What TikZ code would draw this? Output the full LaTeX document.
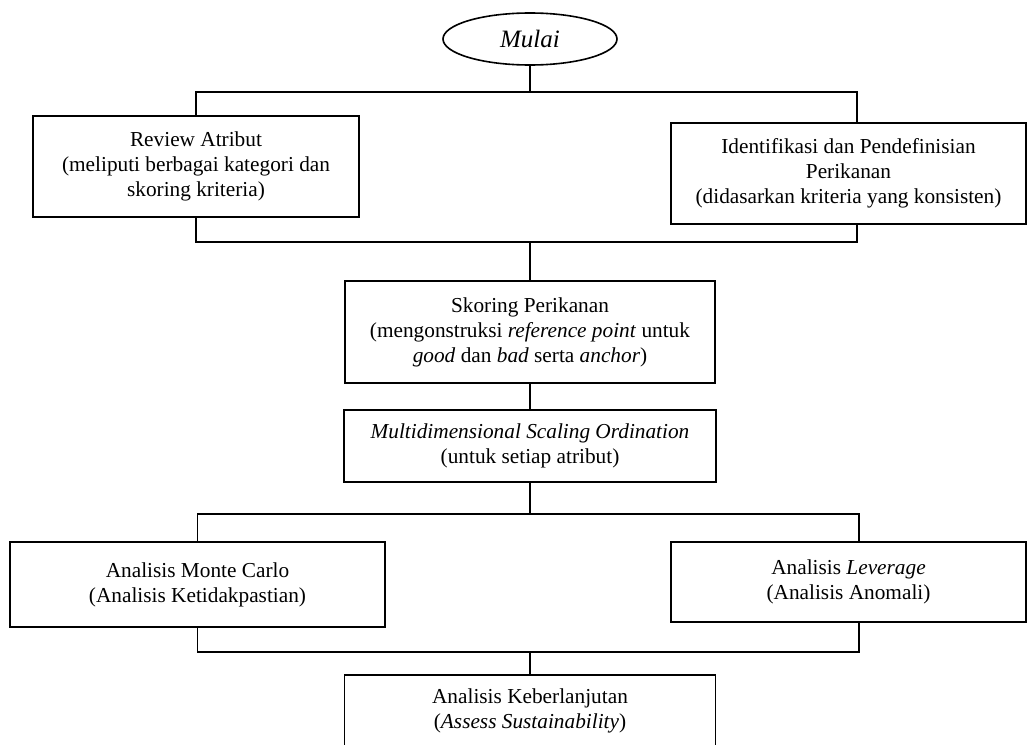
\documentclass[tikz,border=0pt]{standalone}
\usepackage{fontspec}
\setmainfont{Liberation Serif}
\usetikzlibrary{shapes.geometric}
\begin{document}
\begin{tikzpicture}[x=1pt,y=-1pt,line width=1.6pt,
  txt/.style={font=\fontsize{21.3}{25}\selectfont},
  box/.style={draw,rectangle,align=center,inner sep=0pt,txt},
  oval/.style={draw,ellipse,inner sep=0pt,font=\fontsize{25}{30}\selectfont}]
\useasboundingbox (0,0) rectangle (1030,744);
\clip (0,0) rectangle (1030,744);

\node[oval,minimum width=174pt,minimum height=52pt] (start) at (530,39) {\itshape Mulai};

\node[box,minimum width=326pt,minimum height=101pt] (review) at (196,166.5)
  {Review Atribut\\(meliputi berbagai kategori dan\\skoring kriteria)};
\node[box,minimum width=355pt,minimum height=101pt] (ident) at (848.5,173.5)
  {Identifikasi dan Pendefinisian\\Perikanan\\(didasarkan kriteria yang konsisten)};

\node[box,minimum width=370pt,minimum height=102pt] (skor) at (530,332)
  {Skoring Perikanan\\(mengonstruksi \textit{reference point} untuk\\\textit{good} dan \textit{bad} serta \textit{anchor})};

\node[box,minimum width=372pt,minimum height=72pt] (mds) at (530,446)
  {\textit{Multidimensional Scaling Ordination}\\(untuk setiap atribut)};

\node[box,minimum width=375pt,minimum height=85pt] (mc) at (197.5,584.5)
  {Analisis Monte Carlo\\(Analisis Ketidakpastian)};
\node[box,minimum width=355pt,minimum height=80pt] (lev) at (848.5,582)
  {Analisis \textit{Leverage}\\(Analisis Anomali)};

\node[box,minimum width=371pt,minimum height=72pt] (final) at (530,711)
  {Analisis Keberlanjutan\\(\textit{Assess Sustainability})};

\coordinate (topbar) at (530,92);
\coordinate (midbar) at (530,242);
\coordinate (lowbar) at (530,514);
\coordinate (botbar) at (530,652);

\draw (start.south) -- (topbar);
\draw (review.north) -- (review.north |- topbar) -- ([xshift=8.5pt]ident.north |- topbar) -- ([xshift=8.5pt]ident.north);
\draw (review.south) -- (review.south |- midbar) -- ([xshift=8.5pt]ident.south |- midbar) -- ([xshift=8.5pt]ident.south);
\draw (midbar) -- (skor.north);
\draw (skor.south) -- (mds.north);
\draw (mds.south) -- (lowbar);
\draw (mc.north) -- (mc.north |- lowbar) -- ([xshift=10.5pt]lev.north |- lowbar) -- ([xshift=10.5pt]lev.north);
\draw (mc.south) -- (mc.south |- botbar) -- ([xshift=10.5pt]lev.south |- botbar) -- ([xshift=10.5pt]lev.south);
\draw (botbar) -- (final.north);
\end{tikzpicture}
\end{document}
